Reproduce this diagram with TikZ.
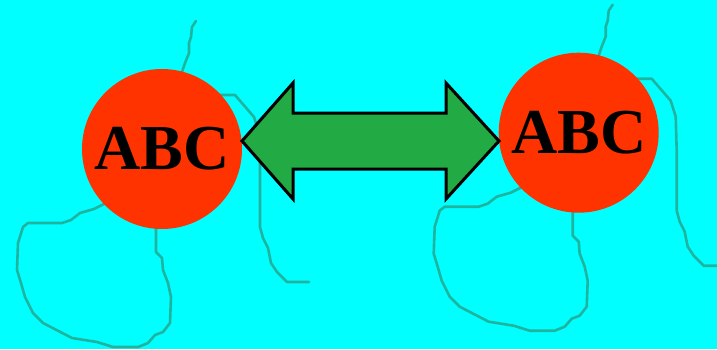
\documentclass[tikz,border=0pt]{standalone}
\usepackage{fontspec}
\setmainfont{Liberation Serif}
\usetikzlibrary{positioning,shapes}
\definecolor{sea}{RGB}{0,255,255}
\definecolor{town}{RGB}{255,51,0}
\definecolor{link}{RGB}{34,170,68}
\definecolor{border}{RGB}{30,180,160}
\tikzset{
  city/.style={circle,fill=town,inner sep=0pt,minimum size=160pt,
    font=\fontsize{64}{64}\selectfont\bfseries},
  bline/.style={draw=border,line width=2.6pt,line join=round,line cap=round},
  borders/.pic={
    \draw[bline] (196,21) -- (192,27) -- (191,37) -- (189,43) -- (189,53)
      -- (185,63) -- (182,72) -- (180,80);
    \draw[bline] (215,95) -- (235,95) -- (254,117) -- (259,133) -- (260,167)
      -- (260,227) -- (263,238) -- (268,248) -- (271,263) -- (277,272)
      -- (287,282) -- (309,282);
    \draw[bline] (110,200) -- (104,204) -- (94,209) -- (80,213) -- (71,220)
      -- (62,223) -- (28,223) -- (23,227) -- (18,243) -- (17,270)
      -- (21,283) -- (25,297) -- (33,313) -- (43,323) -- (72,338)
      -- (97,342) -- (113,347) -- (138,347) -- (148,343) -- (155,335)
      -- (163,332) -- (170,323) -- (171,297) -- (168,283) -- (163,270)
      -- (162,258) -- (156,252) -- (156,230) -- (156,220);
  }
}

\begin{document}
\begin{tikzpicture}[x=1pt,y=-1pt]
  \useasboundingbox (0,0) rectangle (717,349);
  \clip (0,0) rectangle (717,349);
  \fill[sea] (0,0) rectangle (717,349);
  \pic at (0,0) {borders};
  \pic at (416.7,-16.3) {borders};
  \node[city] (L) at (162,149) {ABC};
  \node[city] (R) at (578.7,132.7) {ABC};
  \coordinate (lt) at (242,141);
  \coordinate (rt) at (499,141);
  \draw[fill=link,line width=3pt,line join=miter]
    (lt) -- (293,83) -- (293,113) -- (446,113) -- (446,83) -- (rt)
    -- (446,199) -- (446,169) -- (293,169) -- (293,199) -- cycle;
\end{tikzpicture}
\end{document}
